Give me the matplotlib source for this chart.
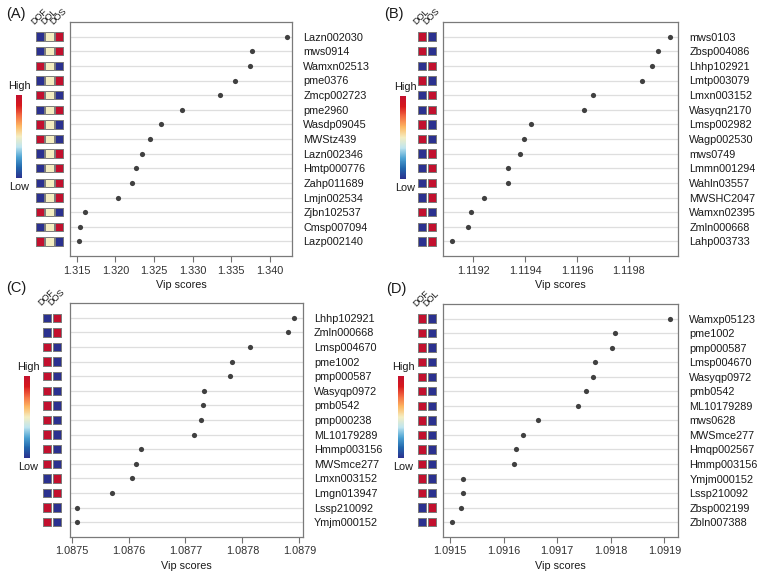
import numpy as np
import matplotlib
matplotlib.use("Agg")
import matplotlib.pyplot as plt
from matplotlib.colors import LinearSegmentedColormap, Normalize
from matplotlib.cm import ScalarMappable

plt.rcParams['font.family'] = ['Liberation Sans', 'DejaVu Sans']

# ---------------- data ----------------
a_labels = ["Lazn002030", "mws0914", "Wamxn02513", "pme0376", "Zmcp002723", "pme2960",
            "Wasdp09045", "MWStz439", "Lazn002346", "Hmtp000776", "Zahp011689",
            "Lmjn002534", "Zjbn102537", "Cmsp007094", "Lazp002140"]
a_vip = [1.3422, 1.33766, 1.3374, 1.33547, 1.33353, 1.32862, 1.3259, 1.32452, 1.32349,
         1.32267, 1.3222, 1.32035, 1.31612, 1.31548, 1.31531]
a_cols = ["DOF", "DOL", "DOS"]
a_heat = [[-1, 0, 1], [-1, 0, 1], [1, 0, -1], [-1, 0, 1], [1, 0, -1], [-1, 0, 1],
          [1, 0, -1], [1, 0, -1], [-1, 0, 1], [-1, 0, 1], [-1, 0, 1], [-1, 0, 1],
          [1, 0, -1], [-1, 0, 1], [1, 0, -1]]
a_ticks = [1.315, 1.320, 1.325, 1.330, 1.335, 1.340]
a_ticklabels = ["1.315", "1.320", "1.325", "1.330", "1.335", "1.340"]

b_labels = ["mws0103", "Zbsp004086", "Lhhp102921", "Lmtp003079", "Lmxn003152", "Wasyqn2170",
            "Lmsp002982", "Wagp002530", "mws0749", "Lmmn001294", "Wahln03557",
            "MWSHC2047", "Wamxn02395", "Zmln000668", "Lahp003733"]
b_vip = [1.119958, 1.119912, 1.119887, 1.119849, 1.119663, 1.119625, 1.119421, 1.119394,
         1.119380, 1.119336, 1.119335, 1.119241, 1.119192, 1.119179, 1.119119]
b_cols = ["DOL", "DOS"]
b_heat = [[1, -1], [1, -1], [-1, 1], [1, -1], [-1, 1], [-1, 1], [1, -1], [1, -1],
          [-1, 1], [-1, 1], [-1, 1], [-1, 1], [1, -1], [-1, 1], [-1, 1]]
b_ticks = [1.1192, 1.1194, 1.1196, 1.1198]
b_ticklabels = ["1.1192", "1.1194", "1.1196", "1.1198"]

c_labels = ["Lhhp102921", "Zmln000668", "Lmsp004670", "pme1002", "pmp000587", "Wasyqp0972",
            "pmb0542", "pmp000238", "ML10179289", "Hmmp003156", "MWSmce277",
            "Lmxn003152", "Lmgn013947", "Lssp210092", "Ymjm000152"]
c_vip = [1.0878907, 1.0878796, 1.0878128, 1.0877823, 1.0877787, 1.0877320, 1.0877315,
         1.0877278, 1.0877155, 1.0876223, 1.0876130, 1.0876060, 1.0875703, 1.0875093,
         1.0875088]
c_cols = ["DOF", "DOS"]
c_heat = [[-1, 1], [-1, 1], [1, -1], [1, -1], [1, -1], [1, -1], [1, -1], [1, -1],
          [1, -1], [1, -1], [1, -1], [-1, 1], [-1, 1], [1, -1], [1, -1]]
c_ticks = [1.0875, 1.0876, 1.0877, 1.0878, 1.0879]
c_ticklabels = ["1.0875", "1.0876", "1.0877", "1.0878", "1.0879"]

d_labels = ["Wamxp05123", "pme1002", "pmp000587", "Lmsp004670", "Wasyqp0972", "pmb0542",
            "ML10179289", "mws0628", "MWSmce277", "Hmqp002567", "Hmmp003156",
            "Ymjm000152", "Lssp210092", "Zbsp002199", "Zbln007388"]
d_vip = [1.0919097, 1.0918082, 1.0918020, 1.0917703, 1.0917672, 1.0917541, 1.0917380,
         1.0916640, 1.0916354, 1.0916235, 1.0916198, 1.0915246, 1.0915235, 1.0915203,
         1.0915035]
d_cols = ["DOF", "DOL"]
d_heat = [[1, -1]] * 13 + [[-1, 1], [-1, 1]]
d_ticks = [1.0915, 1.0916, 1.0917, 1.0918, 1.0919]
d_ticklabels = ["1.0915", "1.0916", "1.0917", "1.0918", "1.0919"]

# ---------------- style ----------------
W, H = 761, 577
fig = plt.figure(figsize=(W / 100, H / 100), dpi=100)

cmap = LinearSegmentedColormap.from_list(
    "hl", ["#2B318F", "#2166AC", "#4DA3D3", "#BFE5EF", "#F4EEC2",
           "#FDB863", "#F46D43", "#D7191C", "#C2102E"])
norm = Normalize(-1, 1)


def rect(x0, y0, x1, y1):
    return [x0 / W, 1 - y1 / H, (x1 - x0) / W, (y1 - y0) / H]


def panel(letter, lab_xy, main_box, heat_left, pitch, cbar_box, hl_x,
          labels, vip, cols, heat, ticks, ticklabels, xlim):
    n = len(labels)
    ypos = np.arange(n, 0, -1)
    x0, y0, x1, y1 = main_box
    ax = fig.add_axes(rect(x0, y0, x1, y1))
    for y in ypos:
        ax.axhline(y, color="#DEDEDE", lw=0.9, zorder=1)
    ax.scatter(vip, ypos, s=14, color="#404040", zorder=3, linewidths=0)
    ax.set_ylim(0, n + 1)
    ax.set_xlim(*xlim)
    ax.set_xticks(ticks)
    ax.set_xticklabels(ticklabels, fontsize=7.8, color="#303030")
    ax.set_yticks(ypos)
    ax.set_yticklabels(labels, fontsize=7.8, color="#1a1a1a")
    ax.yaxis.tick_right()
    ax.tick_params(axis="y", length=0, pad=8)
    ax.tick_params(axis="x", length=4, color="#707070", width=0.8, pad=3)
    for sp in ax.spines.values():
        sp.set_color("#7a7a7a")
        sp.set_linewidth(0.9)
    ax.set_xlabel("Vip scores", fontsize=7.8, color="#1a1a1a", labelpad=3)

    # heat strip
    nc = len(cols)
    hax = fig.add_axes(rect(heat_left, y0, heat_left + nc * pitch, y1))
    hax.set_xlim(-0.5, nc - 0.5)
    hax.set_ylim(0, n + 1)
    hax.axis("off")
    harr = np.array(heat)
    for j in range(nc):
        hax.scatter(np.full(n, j), ypos, c=harr[:, j], cmap=cmap, norm=norm,
                    marker="s", s=36, edgecolors="#7a7a7a", linewidths=0.7, zorder=3)
        hax.text(j - 0.45, n + 0.7, cols[j], rotation=45, rotation_mode="anchor",
                 ha="left", va="bottom", fontsize=6.5, color="#1a1a1a")

    # colorbar
    cx0, cy0, cx1, cy1 = cbar_box
    cax = fig.add_axes(rect(cx0, cy0, cx1, cy1))
    cb = fig.colorbar(ScalarMappable(norm=norm, cmap=cmap), cax=cax)
    cb.outline.set_visible(False)
    cb.set_ticks([])
    fig.text(hl_x / W, 1 - (cy0 - 9) / H, "High", ha="center", va="center",
             fontsize=7.8, color="#1a1a1a")
    fig.text(hl_x / W, 1 - (cy1 + 9) / H, "Low", ha="center", va="center",
             fontsize=7.8, color="#1a1a1a")

    fig.text(lab_xy[0] / W, 1 - lab_xy[1] / H, f"({letter})", ha="left", va="center",
             fontsize=10.5, color="#1a1a1a")


panel("A", (6, 14), (70, 22, 292.3, 256), 35.25, 9.5, (16, 95, 22, 178), 19,
      a_labels, a_vip, a_cols, a_heat, a_ticks, a_ticklabels, (1.31413, 1.34288))
panel("B", (384, 14), (443.3, 22, 678.3, 256), 417.4, 9.6, (400, 96, 406, 179), 405,
      b_labels, b_vip, b_cols, b_heat, b_ticks, b_ticklabels, (1.119085, 1.11999))
panel("C", (6, 288), (70, 303.3, 302.7, 536.7), 42.4, 9.6, (24, 376, 30, 458), 28,
      c_labels, c_vip, c_cols, c_heat, c_ticks, c_ticklabels, (1.087497, 1.087906))
panel("D", (386, 289), (443.3, 304, 678.3, 536.7), 417.4, 9.6, (398, 376, 404, 458), 403,
      d_labels, d_vip, d_cols, d_heat, d_ticks, d_ticklabels, (1.0914873, 1.0919261))

fig.savefig("out.png", dpi=100)
